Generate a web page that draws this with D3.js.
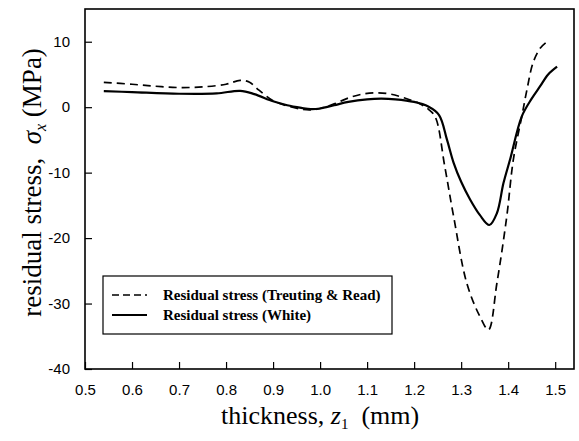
<!DOCTYPE html>
<html>
<head>
<meta charset="utf-8">
<script src="https://cdn.jsdelivr.net/npm/d3@7"></script>
<style>
  body { margin: 0; background: #fff; }
  .tick text { font-family: "Liberation Sans", Arial, sans-serif; font-size: 15px; }
</style>
</head>
<body>
<div id="chart"></div>
<script>
// thickness (mm) and residual stress (MPa)
const zTreuting = [0.54, 0.60, 0.65, 0.70, 0.75, 0.80, 0.83, 0.85, 0.87, 0.90, 0.93, 0.96, 0.98, 1.00, 1.03, 1.06, 1.09, 1.12, 1.15, 1.18, 1.21, 1.23, 1.245,
                   1.265, 1.284, 1.312, 1.34, 1.358, 1.376, 1.397, 1.411, 1.429, 1.44, 1.453, 1.468, 1.482];
const sTreuting = [3.8, 3.5, 3.2, 3.0, 3.1, 3.5, 4.1, 3.8, 2.6, 1.0, 0.2, -0.3, -0.4, -0.2, 0.5, 1.4, 2.0, 2.2, 2.0, 1.4, 0.6, -0.3, -1.5,
                   -9.0, -16.7, -26.9, -32.0, -34.0, -26.9, -16.7, -8.0, -1.4, 2.7, 6.8, 9.0, 9.95];

const zWhite = [0.54, 0.60, 0.70, 0.78, 0.83, 0.86, 0.90, 0.93, 0.96, 0.98, 1.00, 1.03, 1.06, 1.10, 1.13, 1.16, 1.20, 1.23, 1.253,
                1.27, 1.284, 1.30, 1.319, 1.34, 1.36, 1.376, 1.39, 1.404, 1.429, 1.45, 1.468, 1.485, 1.504];
const sWhite = [2.45, 2.3, 2.05, 2.1, 2.5, 2.0, 0.9, 0.3, -0.1, -0.3, -0.2, 0.3, 0.8, 1.2, 1.3, 1.2, 0.8, 0.1, -1.2,
                -5.0, -8.5, -11.4, -14.1, -16.5, -18.0, -16.2, -11.6, -8.0, -1.4, 1.3, 3.2, 5.0, 6.2];

const xTicks = [0.5, 0.6, 0.7, 0.8, 0.9, 1.0, 1.1, 1.2, 1.3, 1.4, 1.5];
const yTicks = [-40, -30, -20, -10, 0, 10];
const legendLabels = ["Residual stress (Treuting & Read)", "Residual stress (White)"];

const W = 579, H = 441;
const margin = { top: 9, right: 5, bottom: 72, left: 85 };
const width = W - margin.left - margin.right;
const height = H - margin.top - margin.bottom;

const svg = d3.select("#chart").append("svg")
    .attr("width", W)
    .attr("height", H);

const g = svg.append("g")
    .attr("transform", `translate(${margin.left},${margin.top})`);

const x = d3.scaleLinear().domain([0.5, 1.54]).range([0, width]);
const y = d3.scaleLinear().domain([-40, 15]).range([height, 0]);

// axes with inward ticks
g.append("g")
    .attr("transform", `translate(0,${height})`)
    .call(d3.axisBottom(x).tickValues(xTicks).tickFormat(d3.format(".1f")).tickSizeInner(-7).tickSizeOuter(0).tickPadding(15))
    .call(a => a.select(".domain").remove());

g.append("g")
    .call(d3.axisLeft(y).tickValues(yTicks).tickFormat(d => String(d)).tickSizeInner(-7).tickSizeOuter(0).tickPadding(15))
    .call(a => a.select(".domain").remove());

g.selectAll(".tick line").attr("stroke", "#000").attr("stroke-width", 1.2);

// frame
g.append("rect")
    .attr("width", width)
    .attr("height", height)
    .attr("fill", "none")
    .attr("stroke", "#000")
    .attr("stroke-width", 1.6);

const line = d3.line()
    .x(d => x(d[0]))
    .y(d => y(d[1]))
    .curve(d3.curveCatmullRom.alpha(0.5));

g.append("path")
    .datum(d3.zip(zTreuting, sTreuting))
    .attr("fill", "none")
    .attr("stroke", "#000")
    .attr("stroke-width", 1.7)
    .attr("stroke-dasharray", "8,5")
    .attr("d", line);

g.append("path")
    .datum(d3.zip(zWhite, sWhite))
    .attr("fill", "none")
    .attr("stroke", "#000")
    .attr("stroke-width", 2.2)
    .attr("d", line);

// legend
const lg = svg.append("g").attr("transform", "translate(103,276)");
lg.append("rect")
    .attr("width", 289)
    .attr("height", 58)
    .attr("fill", "#fff")
    .attr("stroke", "#000")
    .attr("stroke-width", 1.2);

const items = lg.selectAll(".item")
    .data(legendLabels)
    .enter().append("g")
    .attr("transform", (d, i) => `translate(0,${19 + i * 20})`);

items.append("line")
    .attr("x1", 9).attr("x2", 44)
    .attr("stroke", "#000")
    .attr("stroke-width", (d, i) => i === 0 ? 1.5 : 2.2)
    .attr("stroke-dasharray", (d, i) => i === 0 ? "7,4" : null);

items.append("text")
    .attr("x", 60)
    .attr("dy", "0.35em")
    .style("font-family", "'Liberation Serif', 'Times New Roman', serif")
    .style("font-weight", "bold")
    .style("font-size", "15px")
    .text(d => d);

// axis titles
const xt = svg.append("text")
    .attr("x", margin.left + x(1.0))
    .attr("y", 424)
    .attr("text-anchor", "middle")
    .style("font-family", "'Liberation Serif', 'Times New Roman', serif")
    .style("font-size", "26px");
xt.append("tspan").text("thickness, ");
xt.append("tspan").style("font-style", "italic").text("z");
xt.append("tspan").attr("dy", 5).style("font-size", "15px").text("1");
xt.append("tspan").attr("dy", -5).text("\u00a0 (mm)");

const yt = svg.append("text")
    .attr("transform", `translate(41,${margin.top + y(-11.5)}) rotate(-90)`)
    .attr("text-anchor", "middle")
    .style("font-family", "'Liberation Serif', 'Times New Roman', serif")
    .style("font-size", "27px");
yt.append("tspan").text("residual stress,\u00a0 ");
yt.append("tspan").style("font-style", "italic").text("σ");
yt.append("tspan").attr("dy", 5).style("font-style", "italic").style("font-size", "16px").text("x");
yt.append("tspan").attr("dy", -5).text(" (MPa)");
</script>
</body>
</html>
